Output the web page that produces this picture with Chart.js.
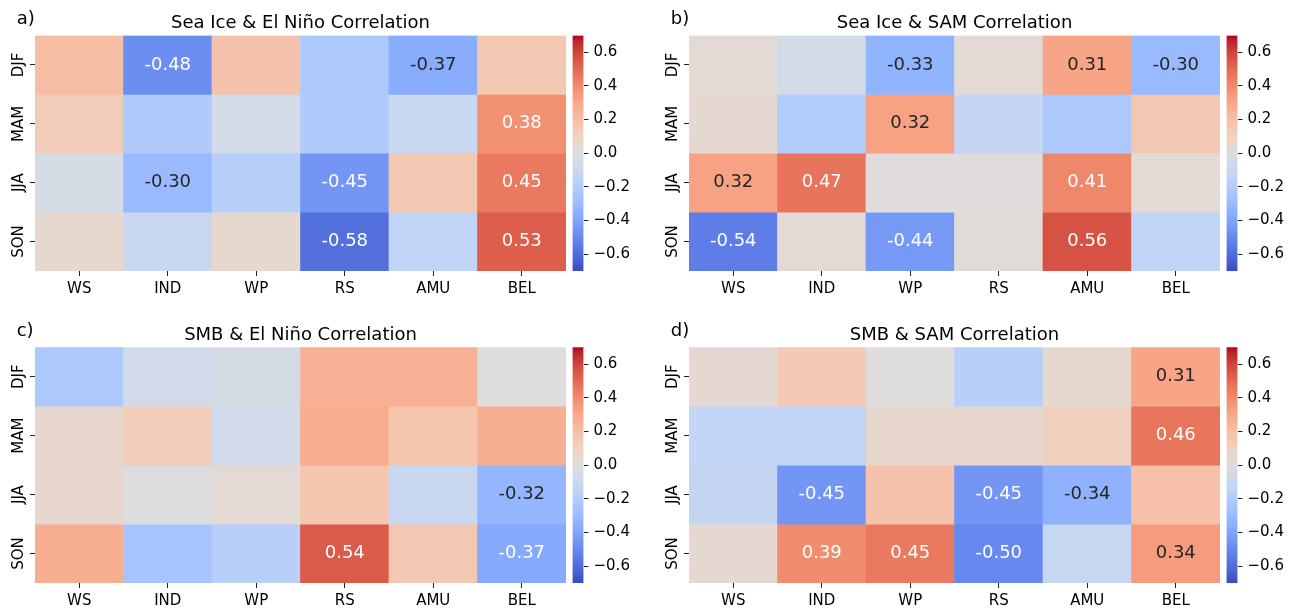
<!DOCTYPE html>
<html><head><meta charset="utf-8">
<script src="https://cdn.jsdelivr.net/npm/chart.js@4.4.1/dist/chart.umd.min.js"></script>
<style>
html,body{margin:0;padding:0;background:#fff;}
#fig{position:relative;width:1296px;height:610px;overflow:hidden;background:#fff}
#fig canvas{position:absolute;left:0;top:0;}
</style></head><body><div id="fig"></div>
<script>
// ---------- data ----------
const regions = ['WS','IND','WP','RS','AMU','BEL'];
const seasons = ['DJF','MAM','JJA','SON'];
const colorbarTicks = [-0.6,-0.4,-0.2,0,0.2,0.4,0.6];
const vmin = -0.7, vmax = 0.7;
const annotThreshold = 0.295;
const titles = ['Sea Ice & El Niño Correlation','Sea Ice & SAM Correlation','SMB & El Niño Correlation','SMB & SAM Correlation'];
const panelLetters = ['a)','b)','c)','d)'];
// rows = seasons, columns = regions
const seaIceElNino = [
  [ 0.20,-0.48, 0.18,-0.22,-0.366, 0.15],
  [ 0.13,-0.21,-0.05,-0.21,-0.10, 0.38],
  [-0.04,-0.30,-0.18,-0.45, 0.15, 0.45],
  [ 0.05,-0.10, 0.05,-0.58,-0.14, 0.53]];
const seaIceSAM = [
  [ 0.03,-0.05,-0.33, 0.03, 0.31,-0.30],
  [ 0.04,-0.20, 0.32,-0.12,-0.22, 0.15],
  [ 0.32, 0.47, 0.01, 0.01, 0.41, 0.03],
  [-0.54, 0.03,-0.44, 0.02, 0.56,-0.14]];
const smbElNino = [
  [-0.22,-0.07,-0.04, 0.26, 0.26, 0.00],
  [ 0.06, 0.13,-0.07, 0.28, 0.17, 0.27],
  [ 0.06,-0.01, 0.03, 0.16,-0.10,-0.32],
  [ 0.27,-0.25,-0.18, 0.54, 0.15,-0.374]];
const smbSAM = [
  [ 0.04, 0.14, 0.00,-0.17, 0.05, 0.31],
  [-0.13,-0.14, 0.06, 0.06, 0.11, 0.46],
  [-0.12,-0.45, 0.18,-0.45,-0.34, 0.19],
  [ 0.04, 0.39, 0.45,-0.50,-0.11, 0.34]];
const panelValues = [seaIceElNino, seaIceSAM, smbElNino, smbSAM];

// ---------- layout (pixels) ----------
const W = 1296, H = 610;
const panelBoxes = [
  {left:35,  right:566,  top:35.5,  bottom:271},
  {left:689, right:1220, top:35.5,  bottom:271},
  {left:35,  right:566,  top:347.3, bottom:583},
  {left:689, right:1220, top:347.3, bottom:583}];
const cbGap = 6.5, cbWidth = 11;
const FONT = "'DejaVu Sans', 'Liberation Sans', sans-serif";

// ---------- coolwarm colormap ----------
const CW = [[59,76,192],[68,90,204],[77,104,215],[87,117,225],[98,130,234],[108,142,241],[119,154,247],[130,165,251],
[141,176,254],[152,185,255],[163,194,255],[174,201,253],[184,208,249],[194,213,244],[204,217,238],[213,219,230],
[221,221,221],[229,216,209],[236,211,197],[241,204,184],[245,196,172],[247,187,160],[247,177,148],[247,166,135],
[244,154,123],[241,141,111],[236,127,99],[229,112,88],[222,96,77],[213,80,66],[203,62,56],[192,40,47],[180,4,38]];
function cwAt(t){
  const p = Math.min(1,Math.max(0,t))*32;
  const i = Math.min(31, Math.floor(p)), f = p - i;
  return CW[i].map((c,k)=>c + (CW[i+1][k]-c)*f);
}
function coolwarm(v){
  let t = (v - vmin)/(vmax - vmin);
  t = Math.min(1, Math.max(0, t));
  const idx = Math.min(255, Math.floor(t*256));
  return cwAt(idx/255);
}
const rgbStr = c => `rgb(${Math.round(c[0])},${Math.round(c[1])},${Math.round(c[2])})`;
function luminance(rgb){
  const c = rgb.map(x=>{x/=255; return x<=0.03928 ? x/12.92 : Math.pow((x+0.055)/1.055,2.4);});
  return 0.2126*c[0] + 0.7152*c[1] + 0.0722*c[2];
}

const fig = document.getElementById('fig');
function newCanvas(){
  const c = document.createElement('canvas');
  c.width = W; c.height = H;
  c.style.width = W+'px'; c.style.height = H+'px';
  fig.appendChild(c);
  return c;
}

const panelText = {
  id: 'panelText',
  afterDraw(chart){
    const o = chart.options.plugins.panelText;
    const ctx = chart.ctx, ca = chart.chartArea;
    const xs = chart.scales.x, ys = chart.scales.y;
    ctx.save();
    // annotations
    ctx.font = `18px ${FONT}`;
    ctx.textAlign = 'center'; ctx.textBaseline = 'middle';
    o.values.forEach((row,i)=>row.forEach((v,j)=>{
      if (Math.abs(v) < annotThreshold) return;
      ctx.fillStyle = luminance(coolwarm(v)) > 0.408 ? '#262626' : '#ffffff';
      ctx.fillText(v.toFixed(2), xs.getPixelForValue(j), ys.getPixelForValue(i+0.5));
    }));
    // rotated season labels
    ctx.fillStyle = '#000';
    ctx.font = `15px ${FONT}`;
    ctx.textAlign = 'center'; ctx.textBaseline = 'alphabetic';
    seasons.forEach((s,i)=>{
      ctx.save();
      ctx.translate(ca.left - 12.5, ys.getPixelForValue(i+0.5));
      ctx.rotate(-Math.PI/2);
      ctx.fillText(s, 0, 0);
      ctx.restore();
    });
    // title and panel letter
    ctx.font = `18px ${FONT}`;
    ctx.textAlign = 'center';
    ctx.fillText(o.title, (ca.left+ca.right)/2, ca.top - 7.5);
    ctx.textAlign = 'left';
    ctx.fillText(o.letter, ca.left - 18.3, ca.top - 11.8);
    ctx.restore();
  }
};

function drawHeatmap(p){
  const box = panelBoxes[p], values = panelValues[p];
  const datasets = seasons.map((s,i)=>({
    label: s,
    data: regions.map(()=>1),
    backgroundColor: values[i].map(v=>rgbStr(coolwarm(v))),
    borderWidth: 0, barPercentage: 1, categoryPercentage: 1
  }));
  new Chart(newCanvas(), {
    type: 'bar',
    data: {labels: regions, datasets},
    options: {
      responsive:false, animation:false, devicePixelRatio:1, events:[],
      layout:{padding:{left:box.left, top:box.top, right:W-box.right, bottom:0}},
      plugins:{legend:{display:false}, tooltip:{enabled:false},
        panelText:{values, title:titles[p], letter:panelLetters[p]}},
      scales:{
        x:{type:'category', stacked:true, offset:true, border:{display:false},
           grid:{display:true, drawOnChartArea:false, drawTicks:true, tickLength:5, tickColor:'#222', offset:false},
           ticks:{color:'#000', font:{family:FONT, size:15}, padding:4, maxRotation:0, minRotation:0, autoSkip:false},
           afterFit:s=>{s.height = H - box.bottom;}},
        y:{type:'linear', stacked:true, min:0, max:seasons.length, reverse:true, border:{display:false},
           grid:{display:true, drawOnChartArea:false, drawTicks:true, tickLength:5, tickColor:'#222'},
           ticks:{display:false},
           afterBuildTicks:s=>{s.ticks = seasons.map((_,i)=>({value:i+0.5}));},
           afterFit:s=>{s.width=0;}}
      }
    },
    plugins:[panelText]
  });
}

function drawColorbar(p){
  const box = panelBoxes[p];
  const left = box.right + cbGap, right = left + cbWidth;
  new Chart(newCanvas(), {
    type:'bar',
    data:{labels:[''], datasets:[{
      data:[[vmin, vmax]],
      backgroundColor: ctx=>{
        const ca = ctx.chart.chartArea; if(!ca) return null;
        const g = ctx.chart.ctx.createLinearGradient(0, ca.bottom, 0, ca.top);
        for (let k=0;k<=64;k++){ g.addColorStop(k/64, rgbStr(cwAt(k/64))); }
        return g;
      },
      borderWidth:0, barPercentage:1, categoryPercentage:1
    }]},
    options:{
      responsive:false, animation:false, devicePixelRatio:1, events:[],
      layout:{padding:{left:left, top:box.top, right:0, bottom:H-box.bottom}},
      plugins:{legend:{display:false}, tooltip:{enabled:false}},
      scales:{
        x:{display:false},
        y:{type:'linear', position:'right', min:vmin, max:vmax, border:{display:false},
           grid:{display:true, drawOnChartArea:false, drawTicks:true, tickLength:5, tickColor:'#222'},
           ticks:{color:'#000', font:{family:FONT, size:15}, padding:5, autoSkip:false, stepSize:0.2,
             callback:v=> Math.abs(v)<1e-9 ? '0.0' : (v<0 ? '\u2212'+Math.abs(v).toFixed(1) : v.toFixed(1))},
           afterBuildTicks:s=>{s.ticks = colorbarTicks.map(v=>({value:v}));},
           afterFit:s=>{s.width = W - right;}}
      }
    }
  });
}

for (let p=0;p<4;p++){ drawHeatmap(p); drawColorbar(p); }
</script></body></html>
